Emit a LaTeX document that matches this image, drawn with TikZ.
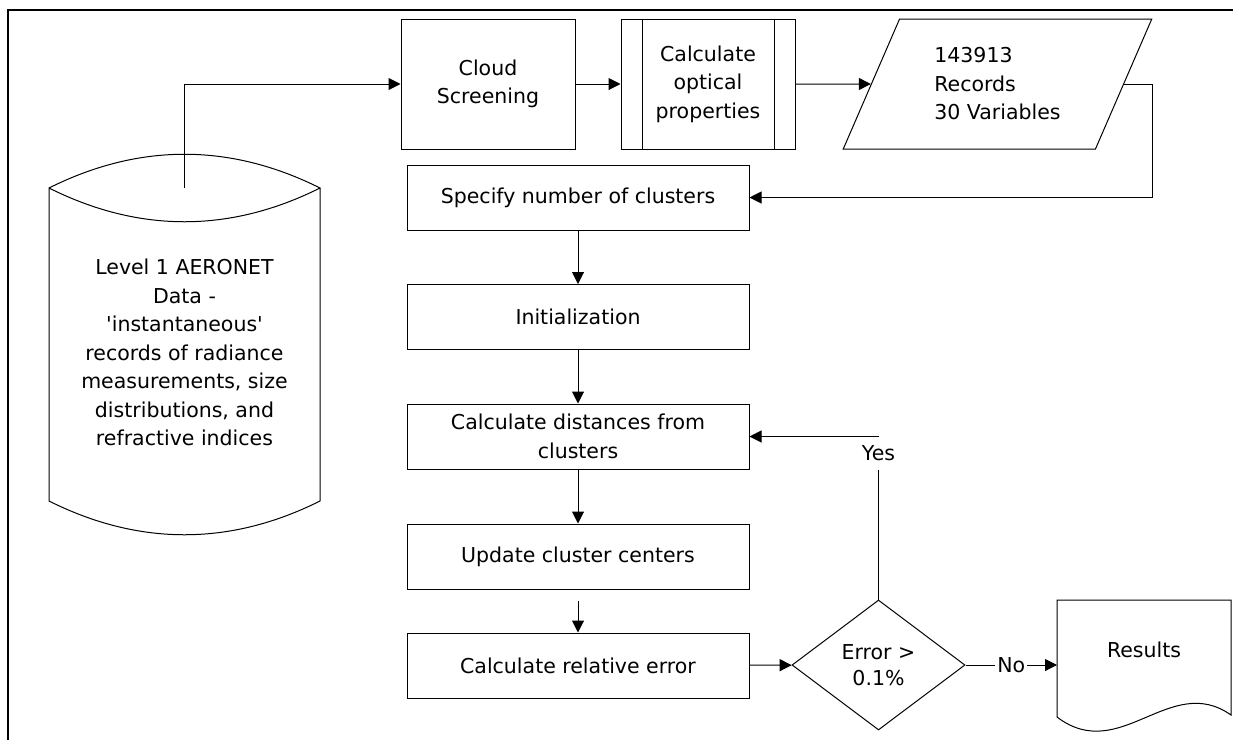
\documentclass[tikz,border=0pt]{standalone}
\usepackage{fontspec}
\setmainfont{DejaVu Sans}
\usetikzlibrary{shapes.geometric,arrows.meta}

\begin{document}
\begin{tikzpicture}[x=1pt, y=-1pt, line width=1pt, >={Triangle[length=12pt,width=12pt]},
	every node/.style={font=\fontsize{20.5}{28.5}\selectfont},
	box/.style={draw, rectangle, inner sep=0pt, minimum width=342pt, minimum height=65pt, align=center},
	topbox/.style={draw, rectangle, inner sep=0pt, minimum width=174pt, minimum height=130pt, align=center}]
	\useasboundingbox (0,0) rectangle (1233,740);
	% 1. 边框
	\draw[line width=2.5pt] (8,740) -- (8,10) -- (1233,10);
	
	% 2. 数据库（圆柱）
	\draw (49,188) .. controls (139,143) and (230,143) .. (320,188)
		.. controls (230,233) and (139,233) .. (49,188) -- (49,501)
		.. controls (139,546) and (230,546) .. (320,501) -- (320,188);
	\node[align=center] (db) at (184.5,352.5) {Level 1 AERONET\\Data -\\\textquotesingle instantaneous\textquotesingle\\records of radiance\\measurements, size\\distributions, and\\refractive indices};
	\coordinate (dbtop) at (184.5,188);
	
	% 3. 上排
	\node[topbox] (cloud) at (488,84) {Cloud\\Screening};
	\node[topbox] (calc) at (708,84) {Calculate\\optical\\properties};
	\draw ([xshift=22pt]calc.north west) -- ([xshift=22pt]calc.south west);
	\draw ([xshift=-21pt]calc.north east) -- ([xshift=-21pt]calc.south east);
	\node[draw, trapezium, trapezium left angle=63.4, trapezium right angle=116.6, trapezium stretches=true,
		minimum width=309pt, minimum height=130pt, inner sep=0pt, align=left] (recs) at (997.5,84) {143913\\Records\\30 Variables};
	
	% 4. 聚类步骤
	\node[box] (spec) at (578,197.5) {Specify number of clusters};
	\node[box] (init) at (578,317) {Initialization};
	\node[box] (dist) at (578,436.5) {Calculate distances from\\clusters};
	\node[box] (upd) at (578,556.5) {Update cluster centers};
	\node[box] (err) at (578,665.5) {Calculate relative error};
	
	% 5. 判断与结果
	\node[draw, diamond, aspect=1.33, minimum width=173pt, minimum height=130pt, inner sep=0pt, align=center,
		font=\fontsize{20.5}{26}\selectfont] (dec) at (878.5,665) {Error >\\0.1\%};
	\draw (1057,600) -- (1231,600) -- (1231,715)
		.. controls (1170,672) and (1120,765) .. (1057,717) -- cycle;
	\node (res) at (1144,650) {Results};
	\coordinate (resin) at (1057,665);
	\node[minimum height=33pt, inner sep=0pt] (yes) at (878.5,453) {Yes};
	
	% 6. 连线
	\draw[->] (dbtop) |- (cloud.west);
	\draw[->] (cloud.east) -- (calc.west);
	\draw[->] (calc.east) -- (recs.west);
	\draw[->] (recs.east) -- (recs.top right corner |- recs.east) |- (spec.east);
	\draw[->] (spec) -- (init);
	\draw[->] (init) -- (dist);
	\draw[->] (dist) -- (upd);
	\draw[->] ([yshift=-11pt]upd.south) -- (err);
	\draw[->] (err) -- (dec);
	\draw (dec.north) -- (yes.south);
	\draw[->] (yes.north) |- (dist.east);
	\draw[->] (dec.east) -- node[fill=white, inner sep=2pt] {No} (resin);
\end{tikzpicture}
\end{document}
